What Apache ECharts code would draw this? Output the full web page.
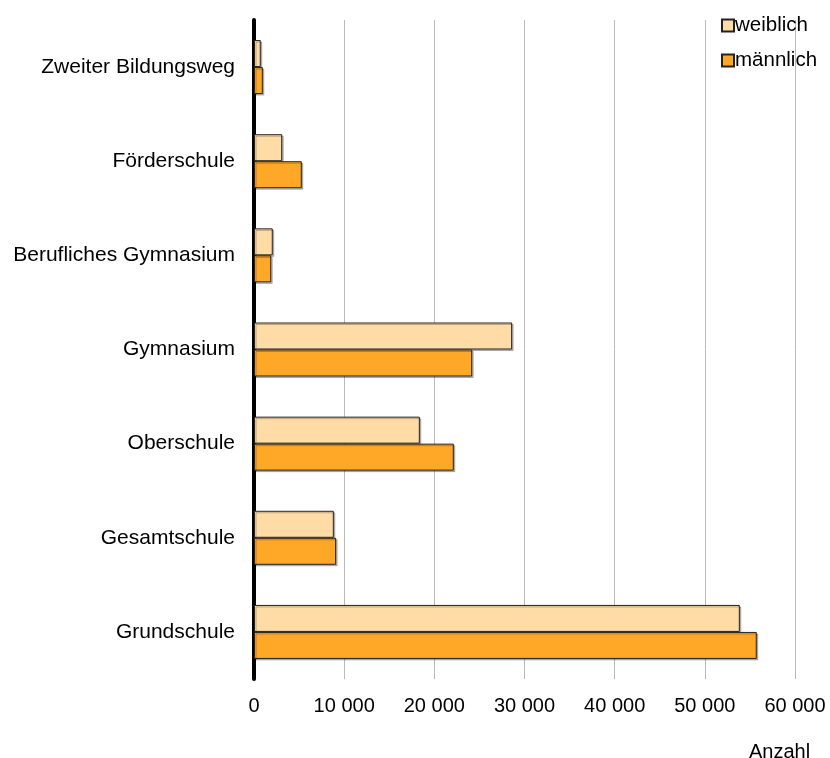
<!DOCTYPE html>
<html>
<head>
<meta charset="utf-8">
<title>Schüler nach Schulart</title>
<script src="https://cdn.jsdelivr.net/npm/echarts@6/dist/echarts.min.js"></script>
<style>
  html, body { margin: 0; padding: 0; background: #fff; }
  #main { width: 830px; height: 758px; }
</style>
</head>
<body>
<div id="main"></div>
<script type="text/javascript">
    // Schularten, von oben nach unten
    var schularten = ['Zweiter Bildungsweg', 'Förderschule', 'Berufliches Gymnasium', 'Gymnasium', 'Oberschule', 'Gesamtschule', 'Grundschule'];
    var weiblich = [750, 3130, 2080, 28630, 18390, 8850, 53880];
    var maennlich = [980, 5300, 1910, 24200, 22160, 9110, 55760];
    var xTicks = { min: 0, max: 60000, step: 10000 };

    var font = 'Liberation Sans, Arial, sans-serif';
    var myChart = echarts.init(document.getElementById('main'));
    var option = {
        animation: false,
        textStyle: { fontFamily: font },
        title: {
            text: 'Anzahl',
            left: 744,
            top: 737,
            textStyle: { fontSize: 20, fontWeight: 'normal', color: '#000', fontFamily: font }
        },
        legend: {
            orient: 'vertical',
            left: 716,
            top: 10,
            itemWidth: 12,
            itemHeight: 12,
            itemGap: 14,
            icon: 'rect',
            textStyle: { fontSize: 20.5, color: '#000', padding: [0, 0, 0, -4] },
            data: ['weiblich', 'männlich']
        },
        grid: {
            left: 254,
            right: 35,
            top: 20,
            bottom: 79
        },
        xAxis: {
            type: 'value',
            min: xTicks.min,
            max: xTicks.max,
            interval: xTicks.step,
            axisLine: { show: false },
            axisTick: { show: false },
            splitLine: { show: true, lineStyle: { color: '#bbb', width: 1 } },
            axisLabel: {
                fontSize: 20,
                color: '#000',
                margin: 17,
                formatter: function (v) {
                    return String(v).replace(/\B(?=(\d{3})+(?!\d))/g, ' ');
                }
            }
        },
        yAxis: {
            type: 'category',
            inverse: true,
            data: schularten,
            axisLine: { show: true, onZero: false, lineStyle: { color: '#000', width: 4 } },
            axisTick: { show: false },
            axisLabel: { fontSize: 21, color: '#000', margin: 19, padding: [3, 0, 0, 0] }
        },
        series: [
            {
                name: 'weiblich',
                type: 'bar',
                data: weiblich,
                barWidth: 27,
                barGap: '0%',
                itemStyle: {
                    color: '#FFDBA6',
                    borderColor: '#222',
                    borderWidth: 1,
                    shadowColor: 'rgba(0,0,0,0.25)',
                    shadowOffsetX: 1.5,
                    shadowOffsetY: 1.5
                }
            },
            {
                name: 'männlich',
                type: 'bar',
                data: maennlich,
                barWidth: 27,
                barGap: '0%',
                itemStyle: {
                    color: '#FFA726',
                    borderColor: '#222',
                    borderWidth: 1,
                    shadowColor: 'rgba(0,0,0,0.25)',
                    shadowOffsetX: 1.5,
                    shadowOffsetY: 1.5
                }
            }
        ]
    };
    myChart.setOption(option);
</script>
</body>
</html>
